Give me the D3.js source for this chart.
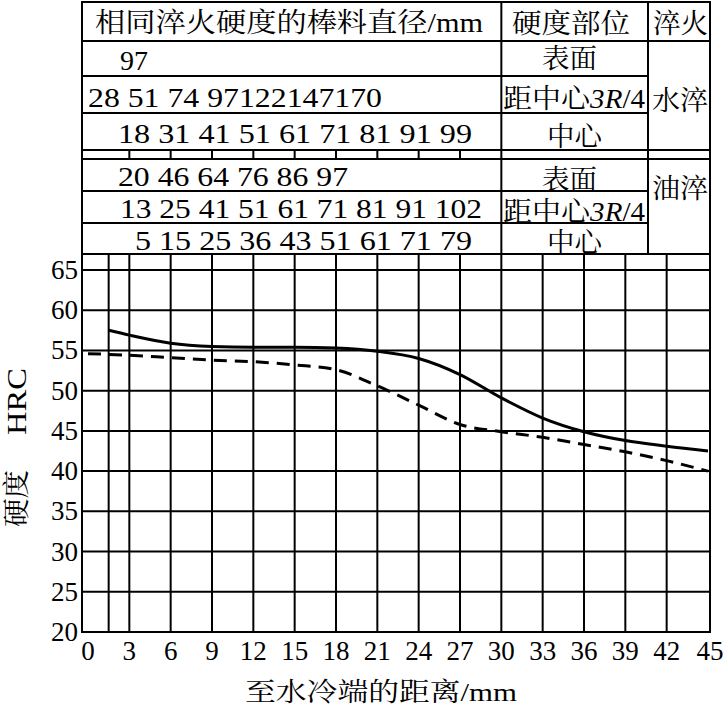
<!DOCTYPE html>
<html><head><meta charset="utf-8">
<script src="https://cdn.jsdelivr.net/npm/d3@7/dist/d3.min.js"></script>
<style>body{margin:0;background:#fff}svg{display:block}</style>
</head><body>
<svg id="c" width="723" height="709"></svg>
<script>
// ---- data ----
const distTicks = [0,3,6,9,12,15,18,21,24,27,30,33,36,39,42,45];
const extraGridX = [1.5];
const hrcTicks = [20,25,30,35,40,45,50,55,60,65];

const solidDist = [1.5,3,6,9,12,15,18,21,24,27,30,33,36,39,42,45];
const solidHRC  = [57.5,56.9,55.9,55.5,55.4,55.4,55.3,54.9,54.0,52.0,49.1,46.6,44.9,43.8,43.1,42.5];
const dashDist  = [0,3,6,9,12,15,18,21,24,27,30,33,36,39,42,45];
const dashHRC   = [54.6,54.4,54.1,53.8,53.6,53.2,52.6,50.6,48.2,45.8,44.9,44.2,43.3,42.4,41.3,40.0];

const headerText = "相同淬火硬度的棒料直径/mm";
const positionHeader = "硬度部位";
const quenchHeader = "淬火";
const waterRows = ["97", "28 51 74 97122147170", "18 31 41 51 61 71 81 91 99"];
const oilRows = ["20 46 64 76 86 97", "13 25 41 51 61 71 81 91 102", "5 15 25 36 43 51 61 71 79"];
const positions = ["表面", "距中心", "中心"];
const quenchNames = ["水淬", "油淬"];
const xTitle = "至水冷端的距离/mm";
const yTitleCn = "硬度";
const yTitleEn = "HRC";

// ---- layout ----
const svg = d3.select("#c");
const FONT = "'Liberation Serif','Times New Roman','Noto Serif CJK SC','Noto Sans CJK SC',serif";
const L = 82, R = 710, TOP = 2, PLOT_TOP = 254, BOT = 632;
const x = d3.scaleLinear().domain([0,45]).range([88,708]);
const y = d3.scaleLinear().domain([20,65]).range([632,270]);
const SW = 2;

function txt(px, py, str, o={}) {
  const t = svg.append("text").attr("x", px).attr("y", py)
    .attr("font-family", FONT).attr("font-size", o.size||27).attr("fill","#000")
    .attr("text-anchor", o.anchor||"start").style("white-space","pre");
  if (o.len) t.attr("textLength", o.len).attr("lengthAdjust","spacingAndGlyphs");
  if (o.rot) t.attr("transform", `rotate(${o.rot},${px},${py})`);
  if (str !== null) t.text(str);
  return t;
}
function line(x1,y1,x2,y2,w=SW){
  svg.append("line").attr("x1",x1).attr("y1",y1).attr("x2",x2).attr("y2",y2)
    .attr("stroke","#000").attr("stroke-width",w).attr("stroke-linecap","square");
}

// ---- chart grid ----
const gridX = extraGridX.concat(distTicks.slice(1, -1));
gridX.forEach(d => line(x(d), PLOT_TOP, x(d), BOT));
hrcTicks.slice(1).forEach(d => line(L, y(d), R, y(d)));
line(L, BOT, R, BOT);

// ---- table ----
const colA = x(30), colB = 648;
line(L, TOP, R, TOP);
[41,150,159].forEach(v => line(L, v, R, v));
[76,113,191,223].forEach(v => line(L, v, colB, v));
line(L, PLOT_TOP, R, PLOT_TOP);
line(L, TOP, L, BOT);
line(R, TOP, R, BOT);
line(colA, TOP, colA, PLOT_TOP);
line(colB, TOP, colB, PLOT_TOP);
distTicks.filter(d => d > 0 && d < 30).forEach(d => line(x(d), 150, x(d), 159));

// table text
txt(95, 32, headerText, {len: 388});
txt(512, 33, positionHeader, {len: 118});
txt(653, 33, quenchHeader, {len: 55});

const numRowsSpec = [
  {s: waterRows[0], x: 120, y: 70, len: 28},
  {s: waterRows[1], x: 88, y: 107, len: 294},
  {s: waterRows[2], x: 118, y: 143, len: 354},
  {s: oilRows[0], x: 118, y: 186, len: 230},
  {s: oilRows[1], x: 120, y: 218, len: 362},
  {s: oilRows[2], x: 135, y: 250, len: 337}
];
numRowsSpec.forEach(r => txt(r.x, r.y, r.s, {len: r.len}));

function posCells(yBase) {
  txt(542, yBase[0], positions[0], {len: 55});
  const t = txt(503, yBase[1], null, {len: 142});
  t.append("tspan").text(positions[1]);
  t.append("tspan").attr("font-style","italic").text("3R");
  t.append("tspan").text("/4");
  txt(547, yBase[2], positions[2], {len: 55});
}
posCells([68, 108, 146]);
posCells([189, 221, 252]);
txt(652, 110, quenchNames[0], {len: 56});
txt(652, 198, quenchNames[1], {len: 56});

// ---- axes labels ----
hrcTicks.forEach(d => txt(78, y(d) + 9, String(d), {anchor: "end", size: 27}));
distTicks.forEach((d, i) => {
  const px = i === distTicks.length - 1 ? 710 : x(d);
  txt(px, 660, String(d), {anchor: "middle", size: 27});
});
txt(245, 701, xTitle, {len: 272, size: 26});
txt(26, 527, yTitleCn, {rot: -90, len: 57});
txt(26, 435, yTitleEn, {rot: -90, len: 67});

// ---- curves ----
const lineGen = d3.line().x(d => x(d[0])).y(d => y(d[1])).curve(d3.curveMonotoneX);
svg.append("path").datum(solidDist.map((d,i)=>[d, solidHRC[i]]))
  .attr("d", lineGen).attr("fill","none").attr("stroke","#000").attr("stroke-width",3);
svg.append("path").datum(dashDist.map((d,i)=>[d, dashHRC[i]]))
  .attr("d", lineGen).attr("fill","none").attr("stroke","#000").attr("stroke-width",3)
  .attr("stroke-dasharray","13,8");
</script>
</body></html>
